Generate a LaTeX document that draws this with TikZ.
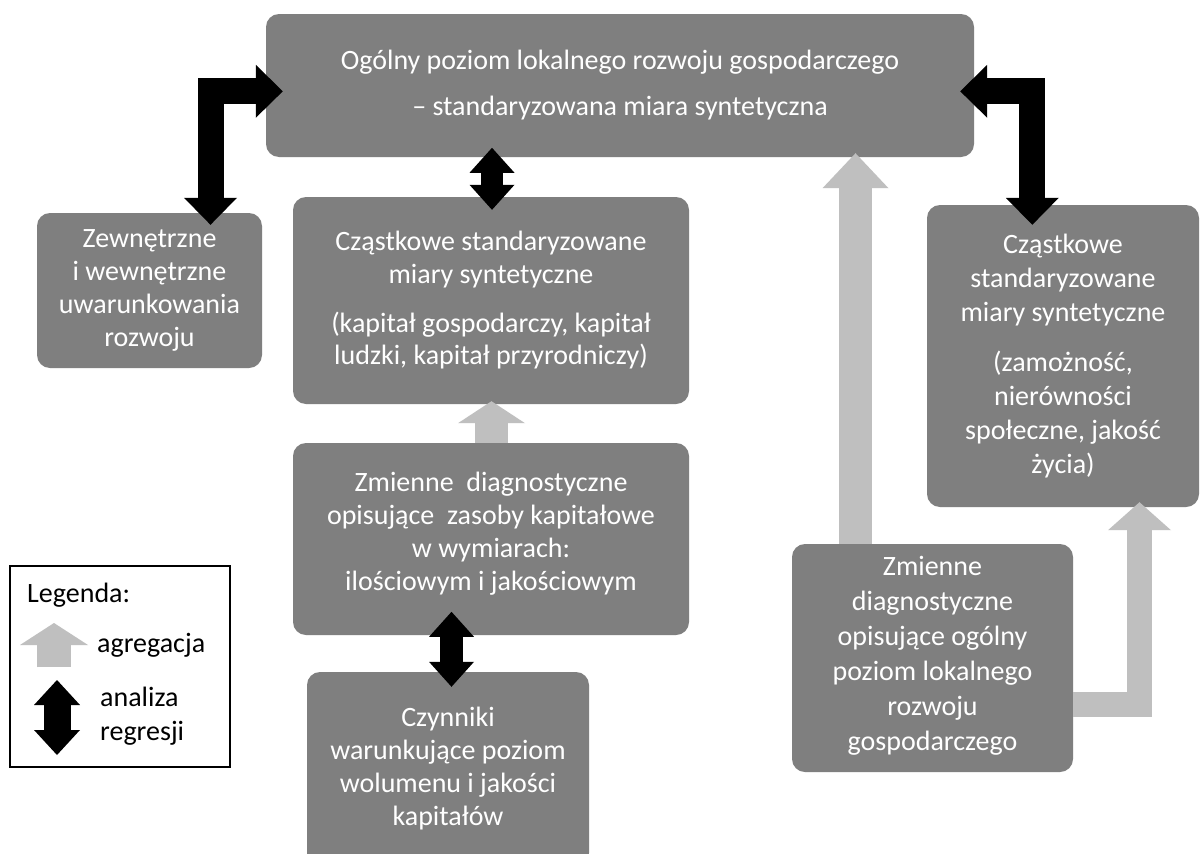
\documentclass[tikz,border=0pt]{standalone}
\usepackage{fontspec}
\setmainfont{Carlito}
\usetikzlibrary{arrows.meta,calc}
\definecolor{boxgray}{HTML}{7F7F7F}
\definecolor{aggray}{HTML}{BFBFBF}
\newcommand{\bigfnt}{\fontsize{28}{34}\selectfont}
\tikzset{
  box/.style={fill=boxgray, rounded corners=13pt, text=white, align=center, inner sep=0pt, font=\bigfnt},
  dbl/.style n args={3}{draw=black, line width=#1, arrows={Triangle[length=#2,width=#3,line width=0pt]-Triangle[length=#2,width=#3,line width=0pt]}},
  agg/.style n args={3}{draw=aggray, line width=#1, arrows={-Triangle[length=#2,width=#3,line width=0pt]}},
  legtext/.style={font=\bigfnt, inner sep=0pt, text=black}
}
\begin{document}
\begin{tikzpicture}[x=1pt,y=-1pt]
\useasboundingbox[fill=white] (0,0) rectangle (1200,854);

% boxes
\node[box, minimum width=708pt, minimum height=143pt] (top) at (620,85.5)
  {Ogólny poziom lokalnego rozwoju gospodarczego\\[12pt]– standaryzowana miara syntetyczna};
\node[box, minimum width=225pt, minimum height=155pt] (ext) at (149.5,290.5)
  {Zewnętrzne\\[-1pt]i wewnętrzne\\[-1pt]uwarunkowania\\[-1pt]rozwoju};
\node[box, minimum width=396pt, minimum height=207pt] (czA) at (491,300.5)
  {Cząstkowe standaryzowane\\[-1pt]miary syntetyczne\\[15pt](kapitał gospodarczy, kapitał\\[-2pt]ludzki, kapitał przyrodniczy)};
\node[box, minimum width=396pt, minimum height=192pt] (zmA) at (491,539)
  {\mbox{}\\[-26pt]Zmienne~ diagnostyczne\\[-1pt]opisujące~ zasoby kapitałowe\\[-1pt]w wymiarach:\\[-1pt]ilościowym i jakościowym};
\node[box, minimum width=282pt, minimum height=194pt] (czyn) at (448,769)
  {Czynniki\\[-1pt]warunkujące poziom\\[-1pt]wolumenu i jakości\\[-1pt]kapitałów};
\node[box, minimum width=272pt, minimum height=302pt] (czB) at (1063,356)
  {Cząstkowe\\standaryzowane\\miary syntetyczne\\[16pt](zamożność,\\nierówności\\społeczne, jakość\\życia)};
\node[box, minimum width=281pt, minimum height=228pt] (zmB) at (932.5,658)
  {\mbox{}\\[-20pt]Zmienne\\[1pt]diagnostyczne\\[1pt]opisujące ogólny\\[1pt]poziom lokalnego\\[1pt]rozwoju\\[1pt]gospodarczego};

% legend
\node[draw=black, line width=1.5pt, fill=white, minimum width=220pt, minimum height=201pt, inner sep=0pt] (leg) at (120,666.5) {};
\node[legtext, anchor=west] (legT) at (27,595) {Legenda:};
\node[legtext, anchor=west] (agT) at (97,645) {agregacja};
\node[legtext, anchor=west, align=left] (anT) at (100,716.5) {analiza\\regresji};
\coordinate (lgA) at (54,667);
\coordinate (lgB) at (54,623);
\coordinate (lgC) at (57,680);
\coordinate (lgD) at (57,755);
\draw[agg={34pt}{22pt}{68pt}] (lgA) -- (lgB);
\draw[dbl={27pt}{25pt}{46pt}] (lgC) -- (lgD);

% regression arrows
\draw[dbl={26pt}{27pt}{53pt}] ($(top.north west)+(17,77.5)$) -| ($(ext.north)+(61,12)$);
\draw[dbl={26pt}{27pt}{53pt}] ($(top.north east)+(-14,77.5)$) -| ($(czB.north west)+(105.5,20)$);
\draw[dbl={22pt}{25pt}{45pt}] ($(czA.north)+(1,-49)$) -- ($(czA.north)+(1,13)$);
\draw[dbl={23pt}{25pt}{45pt}] ($(czyn.north)+(3.5,-60)$) -- ($(czyn.north)+(3.5,15)$);

% aggregation arrows
\draw[agg={33pt}{22pt}{67pt}] ($(zmA.north)+(0.5,0)$) -- ($(czA.south)+(0.5,-3)$);
\draw[agg={33pt}{35pt}{66pt}] ($(zmB.north)+(-77,0)$) -- ($(top.south)+(235.5,-4)$);
\draw[agg={25pt}{28pt}{63pt}] ($(zmB.east)+(0,46)$) -| ($(czB.south)+(76.5,-5)$);
\end{tikzpicture}
\end{document}
